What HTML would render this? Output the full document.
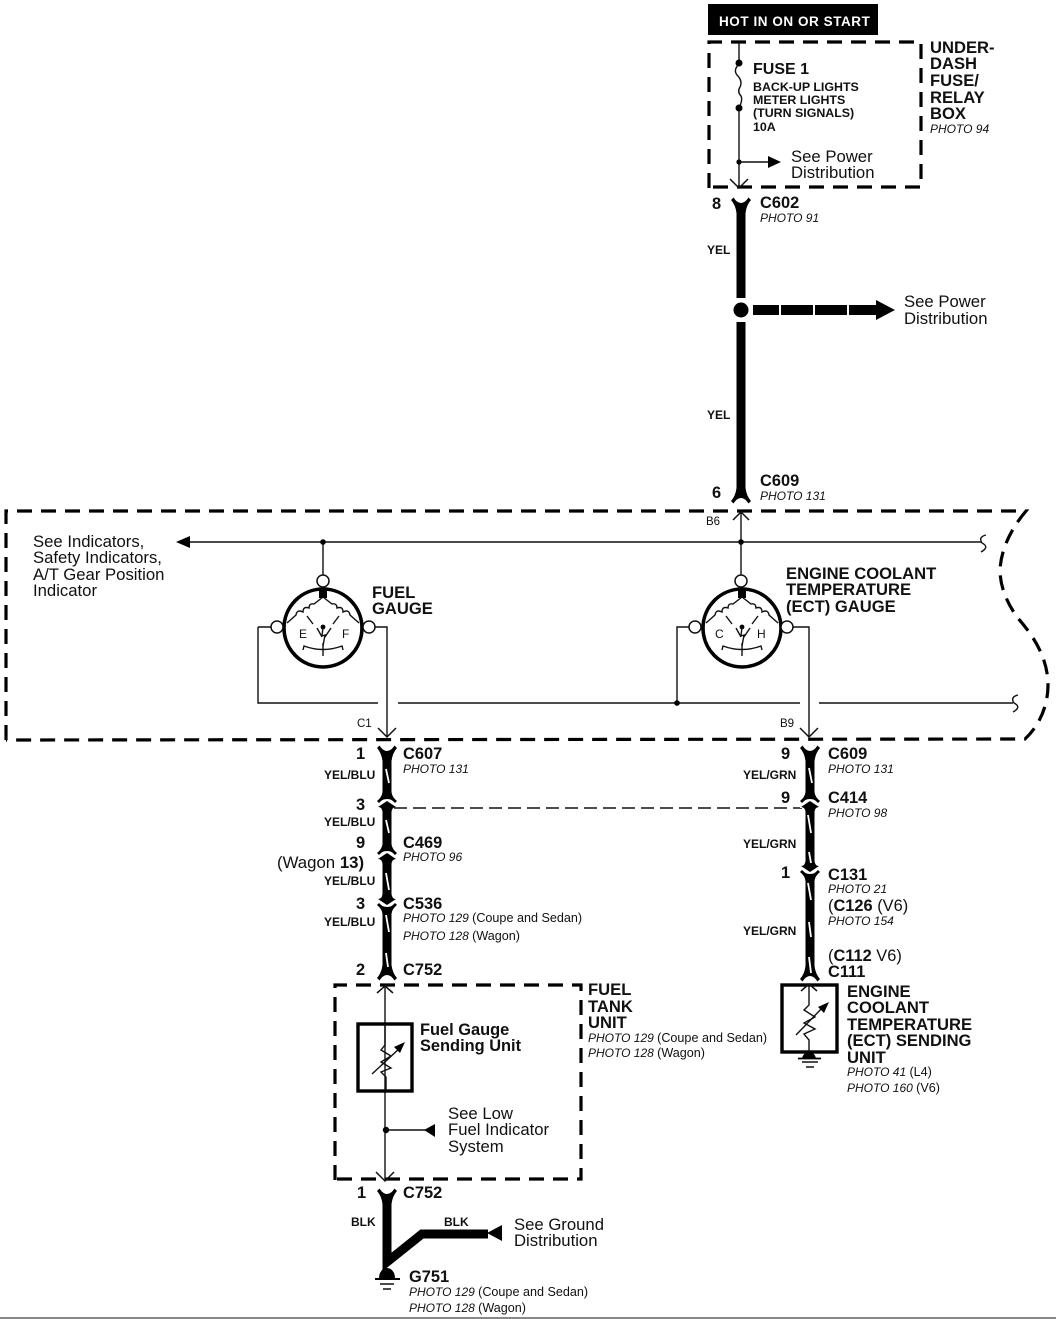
<!DOCTYPE html>
<html><head><meta charset="utf-8">
<style>
html,body{margin:0;padding:0;background:#fff}
svg{display:block}
text{font-family:"Liberation Sans",sans-serif;fill:#111}
.b{font-weight:bold;font-size:16.4px}
.h{font-weight:bold;font-size:16.6px}
.n{font-size:16.7px}
.p{font-style:italic;font-size:12px}
.r{font-style:normal;font-size:12.6px}
.s{font-size:11.5px}
.w{font-weight:bold;font-size:12px}
.f{font-weight:bold;font-size:12.4px}
.d{fill:none;stroke:#000;stroke-width:3.2;stroke-dasharray:15 9}
.t{fill:none;stroke:#111;stroke-width:1.4}
.hv{stroke:#000;stroke-width:9;fill:none}
.sl{stroke:#fff;stroke-width:1.8}
</style></head><body>
<svg width="1056" height="1319" viewBox="0 0 1056 1319" xmlns="http://www.w3.org/2000/svg">
<defs>
<path id="top" d="M-10,-6 L-7.5,-8.5 Q-4,-3 0,-3 Q4,-3 7.5,-8.5 L10,-6 Q5.5,-1 4.5,7 L-4.5,7 Q-5.5,-1 -10,-6Z" fill="#000"/>
<path id="bot" d="M-10,6 L-7.5,8.5 Q-4,3 0,3 Q4,3 7.5,8.5 L10,6 Q5.5,1 4.5,-7 L-4.5,-7 Q-5.5,1 -10,6Z" fill="#000"/>
<path id="ah" d="M-9,-9 L0,0 L9,-9" fill="none" stroke="#111" stroke-width="1.5"/>
<g id="ju">
<path d="M-10,2 Q0,-6 10,2 L10,7 L-10,7Z" fill="#fff"/>
<path d="M-4.5,-9 Q-5,-4 -10,0 L-8,2 Q-3,-3 0,-3 Q3,-3 8,2 L10,0 Q5,-4 4.5,-9Z" fill="#000"/>
<path d="M0,0 L-9,6 Q-5,6 -4.5,11 L4.5,11 Q5,6 9,6Z" fill="#000"/>
</g>
<g id="gauge">
<circle r="39" fill="#fff" stroke="#000" stroke-width="3.6"/>
<rect x="-4" y="-39" width="8" height="9" fill="#000"/>
<path class="t" d="M0,-31 L-9,-24 q-5,-1 -5,4 q-6,-2 -6,4 q-6,-3 -7,3 L-36,-5 M0,-31 L9,-24 q5,-1 5,4 q6,-2 6,4 q6,-3 7,3 L36,-5"/>
<path class="t" d="M-16,-12 L-10,-4 M16,-12 L10,-4"/>
<circle cx="0" cy="-1" r="2.4" fill="#000"/>
<path class="t" d="M-6,0 L-1,9 M8,0 L2,9 M0,-1 L-1,8 L2,7 L0,18"/>
<path class="t" d="M-20,22 L-19,18 Q0,25 19,18 L20,22 M0,15 L0,28"/>
</g>
</defs>

<rect width="1056" height="1319" fill="#fff"/>

<!-- header -->
<rect x="708" y="4" width="170" height="31" fill="#000"/>
<text x="719" y="26" font-size="13.5" font-weight="bold" style="fill:#fff" letter-spacing=".55">HOT IN ON OR START</text>

<!-- fuse box -->
<path class="d" d="M709,188 L709,42 L921,42 L921,187 L709,187"/>
<path class="t" d="M739,42 L739,64 M739,108 L739,187"/>
<path class="t" d="M739,64 q-6,6 -2,11 q6,6 3,12 q-3,5 1,9 q2,4 -2,12"/>
<circle cx="739" cy="63" r="3.5" fill="#000"/><circle cx="739" cy="108" r="3.5" fill="#000"/>
<circle cx="739" cy="162" r="2.6" fill="#000"/>
<path class="t" d="M739,162 L770,162"/><path d="M768,156 L781,162 L768,168Z" fill="#000"/>
<use href="#ah" x="739" y="188"/>
<text x="753" y="74" font-size="16" font-weight="bold">FUSE 1</text>
<text class="f" x="753" y="91">BACK-UP LIGHTS</text>
<text class="f" x="753" y="104">METER LIGHTS</text>
<text class="f" x="753" y="117">(TURN SIGNALS)</text>
<text class="f" x="753" y="131">10A</text>
<text class="n" x="791" y="162">See Power</text>
<text class="n" x="791" y="178">Distribution</text>
<text class="h" x="930" y="53">UNDER-</text>
<text class="h" x="930" y="69">DASH</text>
<text class="h" x="930" y="86">FUSE/</text>
<text class="h" x="930" y="103">RELAY</text>
<text class="h" x="930" y="119">BOX</text>
<text class="p" x="930" y="133">PHOTO 94</text>

<!-- top wire -->
<text class="b" x="712" y="209">8</text>
<text class="b" x="760" y="208">C602</text>
<text class="p" x="760" y="222">PHOTO 91</text>
<use href="#top" x="741" y="206"/>
<path d="M741,205 L741,298" stroke="#000" stroke-width="9"/>
<path d="M741,322 L741,495" stroke="#000" stroke-width="9"/>
<circle cx="741" cy="310" r="7.5" fill="#000"/>
<path d="M753,310 L779,310 M781,310 L813,310 M815,310 L847,310 M849,310 L880,310" stroke="#000" stroke-width="10"/>
<path d="M876,300 L895,310 L876,320Z" fill="#000"/>
<text class="w" x="707" y="254">YEL</text>
<text class="w" x="707" y="419">YEL</text>
<text class="n" x="904" y="307">See Power</text>
<text class="n" x="904" y="324">Distribution</text>
<text class="b" x="712" y="498">6</text>
<text class="b" x="760" y="486">C609</text>
<text class="p" x="760" y="500">PHOTO 131</text>
<use href="#bot" x="741" y="495"/>

<!-- main dashed box -->
<path class="d" d="M6,740 L6,511 L1026,511 C1010,530 1001,550 1000,570 C1000,590 1010,607 1017,617 C1030,632 1048,655 1048,685 C1048,705 1040,725 1025,739 L6,740"/>

<!-- horizontal wires -->
<path d="M186,542 L982,542" class="t"/>
<path d="M176,542 L190,536 L190,548Z" fill="#000"/>
<path class="t" d="M986,535 Q978,537 982,543 Q990,547 981,552"/>
<path class="t" d="M258,627 L272,627 M258,627 L258,703 L378,703 M398,703 L800,703 M819,703 L1013,703"/>
<path class="t" d="M1018,695 Q1010,697 1014,703 Q1022,707 1013,712"/>
<path class="t" d="M374,627 L387,627 L387,737"/>
<path class="t" d="M677,703 L677,627 L690,627"/>
<circle cx="677" cy="703" r="2.8" fill="#000"/>
<path class="t" d="M792,627 L809,627 L809,737"/>
<path class="t" d="M741,512 L741,576"/>
<path class="t" d="M323,542 L323,576"/>
<circle cx="323" cy="542" r="2.8" fill="#000"/>
<circle cx="741" cy="542" r="2.8" fill="#000"/>
<path d="M733,520 L741,512 L749,520" fill="none" stroke="#111" stroke-width="1.5"/>
<use href="#ah" x="387" y="737"/>
<use href="#ah" x="809" y="737"/>

<!-- gauges -->
<use href="#gauge" x="323" y="628"/>
<use href="#gauge" x="742" y="628"/>
<g fill="#fff" stroke="#111" stroke-width="1.5">
<circle cx="323" cy="581" r="6"/><circle cx="277" cy="627" r="6"/><circle cx="369" cy="627" r="6"/>
<circle cx="741" cy="581" r="6"/><circle cx="695" cy="627" r="6"/><circle cx="787" cy="627" r="6"/>
</g>
<text x="299" y="638" font-size="12">E</text><text x="342" y="638" font-size="12">F</text>
<text x="715" y="638" font-size="12">C</text><text x="757" y="638" font-size="12">H</text>

<text class="n" x="33" y="547">See Indicators,</text>
<text class="n" x="33" y="563">Safety Indicators,</text>
<text class="n" x="33" y="580">A/T Gear Position</text>
<text class="n" x="33" y="596">Indicator</text>
<text class="h" x="372" y="598">FUEL</text>
<text class="h" x="372" y="614">GAUGE</text>
<text class="h" x="786" y="579">ENGINE COOLANT</text>
<text class="h" x="786" y="595">TEMPERATURE</text>
<text class="h" x="786" y="612">(ECT) GAUGE</text>
<text class="s" x="706" y="525">B6</text>
<text class="s" x="357" y="727">C1</text>
<text class="s" x="780" y="727">B9</text>

<!-- left harness -->
<path class="hv" d="M387,752 L387,972"/>
<use href="#top" x="387" y="754"/>
<use href="#ju" x="387" y="801"/>
<use href="#ju" x="387" y="853"/>
<use href="#ju" transform="translate(387,905) scale(1,-1)"/>
<use href="#bot" x="387" y="972"/>
<path class="sl" d="M386,769 L389,783 M386,820 L389,833 M386,873 L389,890 M386,915 L389,932 M386,953 L388,967"/>
<path d="M394,808 L802,808" stroke="#111" stroke-width="1.5" stroke-dasharray="13 6" fill="none"/>
<text class="b" x="356" y="759">1</text>
<text class="b" x="403" y="759">C607</text>
<text class="p" x="403" y="773">PHOTO 131</text>
<text class="w" x="324" y="779">YEL/BLU</text>
<text class="b" x="356" y="810">3</text>
<text class="w" x="324" y="826">YEL/BLU</text>
<text class="b" x="356" y="848">9</text>
<text class="b" x="403" y="848">C469</text>
<text class="p" x="403" y="861">PHOTO 96</text>
<text x="277" y="868" font-size="16.8">(Wagon <tspan font-weight="bold">13)</tspan></text>
<text class="w" x="324" y="885">YEL/BLU</text>
<text class="b" x="356" y="909">3</text>
<text class="b" x="403" y="909">C536</text>
<text class="p" x="403" y="922">PHOTO 129 <tspan class="r">(Coupe and Sedan)</tspan></text>
<text class="p" x="403" y="940">PHOTO 128 <tspan class="r">(Wagon)</tspan></text>
<text class="w" x="324" y="926">YEL/BLU</text>
<text class="b" x="356" y="975">2</text>
<text class="b" x="403" y="975">C752</text>

<!-- right harness -->
<path class="hv" d="M810,752 L810,975"/>
<use href="#top" x="810" y="754"/>
<use href="#ju" x="810" y="801"/>
<use href="#ju" transform="translate(810,872) scale(1,-1)"/>
<use href="#bot" x="810" y="973"/>
<path class="sl" d="M809,768 L812,783 M808,815 L811,833 M809,852 L811,863 M808,883 L811,900 M809,922 L811,937 M809,957 L811,973"/>
<text class="b" x="781" y="759">9</text>
<text class="b" x="828" y="759">C609</text>
<text class="p" x="828" y="773">PHOTO 131</text>
<text class="w" x="743" y="779">YEL/GRN</text>
<text class="b" x="781" y="803">9</text>
<text class="b" x="828" y="803">C414</text>
<text class="p" x="828" y="817">PHOTO 98</text>
<text class="w" x="743" y="848">YEL/GRN</text>
<text class="b" x="781" y="878">1</text>
<text class="b" x="828" y="880">C131</text>
<text class="p" x="828" y="893">PHOTO 21</text>
<text x="828" y="911" font-size="16.4">(<tspan font-weight="bold">C126</tspan> (V6)</text>
<text class="p" x="828" y="925">PHOTO 154</text>
<text class="w" x="743" y="935">YEL/GRN</text>
<text x="828" y="961" font-size="16.4">(<tspan font-weight="bold">C112</tspan> V6)</text>
<text class="b" x="828" y="977">C111</text>

<!-- ECT unit -->
<rect x="782" y="985" width="55" height="67" fill="none" stroke="#000" stroke-width="3.4"/>
<path class="t" d="M809,986 L809,1005 L804,1010 L815,1017 L804,1023 L815,1029 L804,1034 L809,1040 L809,1052"/>
<path class="t" d="M796,1035 L825,1005"/>
<path d="M829,1002 L818,1007 L824,1013Z" fill="#000"/>
<path d="M801,991 L809,984 L817,991" fill="none" stroke="#111" stroke-width="1.5"/>
<path d="M802,1058 A7.5,10 0 0 1 816,1058Z" fill="#000"/>
<path d="M798,1058.5 L821,1058.5" stroke="#000" stroke-width="1.8"/>
<path d="M802,1062 L818,1062 M806,1067 L814,1067" stroke="#111" stroke-width="1.4"/>
<text class="h" x="847" y="997">ENGINE</text>
<text class="h" x="847" y="1013">COOLANT</text>
<text class="h" x="847" y="1030">TEMPERATURE</text>
<text class="h" x="847" y="1046">(ECT) SENDING</text>
<text class="h" x="847" y="1063">UNIT</text>
<text class="p" x="847" y="1076">PHOTO 41 <tspan class="r">(L4)</tspan></text>
<text class="p" x="847" y="1092">PHOTO 160 <tspan class="r">(V6)</tspan></text>

<!-- Fuel tank unit -->
<path class="d" d="M335,1180 L335,985 L581,985 L581,1179 L335,1179"/>
<path class="t" d="M385,985 L385,1180"/>
<path d="M377,993 L385,986 L393,993" fill="none" stroke="#111" stroke-width="1.5"/>
<use href="#ah" x="385" y="1181"/>
<rect x="358" y="1024" width="54" height="67" fill="none" stroke="#000" stroke-width="3.4"/>
<path class="t" d="M385,1024 L385,1045 L381,1050 L391,1056 L381,1062 L391,1068 L381,1072 L386,1077 L386,1091"/>
<path class="t" d="M372,1074 L401,1047"/>
<path d="M405,1042 L394,1047 L400,1053Z" fill="#000"/>
<circle cx="386" cy="1130" r="3.2" fill="#000"/>
<path class="t" d="M386,1130 L426,1130"/><path d="M424,1130 L435,1124 L435,1137Z" fill="#000"/>
<text x="420" y="1035" font-weight="bold" font-size="16.4">Fuel Gauge</text>
<text x="420" y="1051" font-weight="bold" font-size="16.4">Sending Unit</text>
<text class="n" x="448" y="1119">See Low</text>
<text class="n" x="448" y="1135">Fuel Indicator</text>
<text class="n" x="448" y="1152">System</text>
<text class="h" x="588" y="995">FUEL</text>
<text class="h" x="588" y="1012">TANK</text>
<text class="h" x="588" y="1028">UNIT</text>
<text class="p" x="588" y="1042">PHOTO 129 <tspan class="r">(Coupe and Sedan)</tspan></text>
<text class="p" x="588" y="1057">PHOTO 128 <tspan class="r">(Wagon)</tspan></text>

<!-- bottom -->
<use href="#top" x="387" y="1197"/>
<path d="M387,1197 L387,1262 L422,1234 L488,1234" fill="none" stroke="#000" stroke-width="9"/>
<path d="M487,1233 L502,1225 L502,1241Z" fill="#000"/>
<path d="M379,1278 A8,10 0 0 1 395,1278Z" fill="#000"/>
<path d="M375,1279 L400,1279" stroke="#000" stroke-width="2"/>
<path d="M380,1284 L394,1284 M383,1289 L391,1289" stroke="#111" stroke-width="1.5"/>
<text class="b" x="357" y="1198">1</text>
<text class="b" x="403" y="1198">C752</text>
<text class="w" x="351" y="1226">BLK</text>
<text class="w" x="444" y="1226">BLK</text>
<text class="n" x="514" y="1230">See Ground</text>
<text class="n" x="514" y="1246">Distribution</text>
<text class="b" x="409" y="1282">G751</text>
<text class="p" x="409" y="1296">PHOTO 129 <tspan class="r">(Coupe and Sedan)</tspan></text>
<text class="p" x="409" y="1312">PHOTO 128 <tspan class="r">(Wagon)</tspan></text>
<rect x="0" y="1317" width="1056" height="2" fill="#888"/>
</svg>
</body></html>
